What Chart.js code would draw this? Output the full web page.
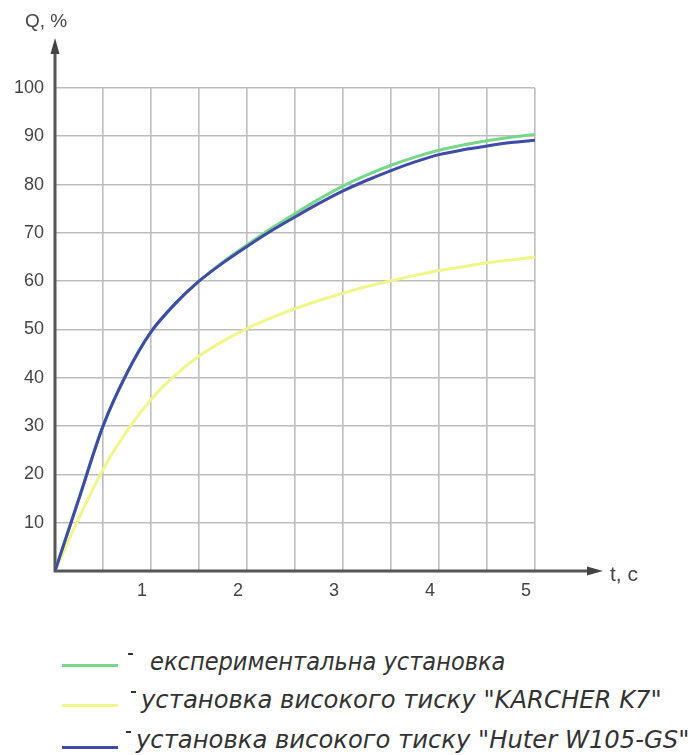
<!DOCTYPE html>
<html>
<head>
<meta charset="utf-8">
<script src="https://cdn.jsdelivr.net/npm/chart.js@4/dist/chart.umd.min.js"></script>
<style>
  body { margin: 0; background: #fff; }
  #wrap { position: relative; width: 691px; height: 755px; overflow: hidden; }
  #chart { position: absolute; left: 0; top: 0; }
  .axis-label { position: absolute; font-family: "Liberation Sans", Arial, sans-serif; color: #444; }
  .leg { position: absolute; font-family: "DejaVu Sans Condensed", "DejaVu Sans", sans-serif; font-style: italic;
         color: #333; font-size: 24px; white-space: nowrap; transform-origin: left center; }
  .leg-line { position: absolute; height: 3px; width: 56px; }
  .leg-dash { position: absolute; width: 5px; height: 2px; background: #333; }
</style>
</head>
<body>
<div id="wrap">
  <canvas id="chart" width="691" height="620"></canvas>
  <div class="axis-label" style="left:25px; top:10px; font-size:19px;">Q, %</div>
  <div class="axis-label" style="left:610px; top:562px; font-size:21px;">t, c</div>
  <div id="legend"></div>
</div>
<script>
// час, с
const times = [0, 0.25, 0.5, 0.75, 1, 1.25, 1.5, 1.75, 2, 2.25, 2.5, 2.75, 3, 3.25, 3.5, 3.75, 4, 4.25, 4.5, 4.75, 5];

// Q, % для кожної установки
const experimental = [0, 15, 30, 41, 49.5, 55.3, 60, 64, 67.5, 70.9, 74, 77, 79.7, 82, 84, 85.7, 87.1, 88.2, 89.1, 89.8, 90.4];
const karcher      = [0, 11, 21, 29, 35.5, 40.5, 44.5, 47.6, 50.2, 52.4, 54.3, 56, 57.5, 58.9, 60.1, 61.2, 62.2, 63, 63.8, 64.4, 65];
const huter        = [0, 15, 30, 41, 49.5, 55.3, 60, 63.8, 67.2, 70.4, 73.3, 76.1, 78.7, 80.9, 82.9, 84.7, 86.2, 87.2, 88, 88.7, 89.2];

const xTickLabels = ['1', '2', '3', '4', '5'];
const yTickLabels = ['10', '20', '30', '40', '50', '60', '70', '80', '90', '100'];

const seriesNames = [
    'експериментальна установка',
    'установка високого тиску "KARCHER K7"',
    'установка високого тиску "Huter W105-GS"'
];
const seriesColors = ['#76d68a', '#f0f68a', '#3f4ba6'];

function toPoints(values) {
    return values.map((v, i) => ({ x: times[i], y: v }));
}

// стрілки осей
const axisArrows = {
    id: 'axisArrows',
    beforeDatasetsDraw(chart) {
        const ctx = chart.ctx;
        const a = chart.chartArea;
        ctx.save();
        ctx.strokeStyle = '#555';
        ctx.fillStyle = '#444';
        ctx.lineWidth = 3;
        ctx.beginPath();
        ctx.moveTo(a.left, a.bottom + 1);
        ctx.lineTo(a.left, 50);
        ctx.moveTo(a.left - 1, a.bottom);
        ctx.lineTo(592, a.bottom);
        ctx.stroke();
        ctx.beginPath();
        ctx.moveTo(a.left, 38);
        ctx.lineTo(a.left - 4.5, 54);
        ctx.lineTo(a.left + 4.5, 54);
        ctx.closePath();
        ctx.fill();
        ctx.beginPath();
        ctx.moveTo(603, a.bottom);
        ctx.lineTo(587, a.bottom - 4.5);
        ctx.lineTo(587, a.bottom + 4.5);
        ctx.closePath();
        ctx.fill();
        ctx.restore();
    }
};

const datasets = [experimental, karcher, huter].map((values, i) => ({
    label: seriesNames[i],
    data: toPoints(values),
    borderColor: seriesColors[i],
    borderWidth: 3,
    pointRadius: 0,
    tension: 0.3,
    order: i === 2 ? 0 : 1
}));

new Chart(document.getElementById('chart'), {
    type: 'line',
    data: { datasets },
    options: {
        responsive: false,
        animation: false,
        layout: { padding: { top: 88, right: 156, left: 0, bottom: 0 } },
        plugins: { legend: { display: false }, tooltip: { enabled: false } },
        scales: {
            x: {
                type: 'linear',
                min: 0,
                max: 5,
                afterFit: s => { s.height = 49; },
                border: { display: false },
                grid: { color: '#bdbdbd', lineWidth: 1.6, drawTicks: false },
                ticks: {
                    stepSize: 0.5,
                    autoSkip: false,
                    maxRotation: 0,
                    padding: 9,
                    labelOffset: -9,
                    color: '#444',
                    font: { family: 'Liberation Sans', size: 18 },
                    callback: v => Number.isInteger(v) && v > 0 ? xTickLabels[v - 1] : ''
                }
            },
            y: {
                min: 0,
                max: 100,
                afterFit: s => { s.width = 55; },
                border: { display: false },
                grid: { color: '#bdbdbd', lineWidth: 1.6, drawTicks: false },
                ticks: {
                    stepSize: 10,
                    padding: 11,
                    color: '#444',
                    font: { family: 'Liberation Sans', size: 18 },
                    callback: v => v > 0 ? yTickLabels[v / 10 - 1] : ''
                }
            }
        }
    },
    plugins: [axisArrows]
});

// легенда під графіком
const legendRows = [
    { lineY: 665, textX: 150, textY: 662, width: 355, dashX: 128 },
    { lineY: 705, textX: 141, textY: 700, width: 521, dashX: 131 },
    { lineY: 747, textX: 136, textY: 740, width: 553, dashX: 126 }
];
const legend = document.getElementById('legend');
legendRows.forEach((r, i) => {
    const line = document.createElement('div');
    line.className = 'leg-line';
    line.style.left = '62px';
    line.style.top = (r.lineY - 1) + 'px';
    line.style.background = seriesColors[i];
    legend.appendChild(line);

    const dash = document.createElement('div');
    dash.className = 'leg-dash';
    dash.style.left = r.dashX + 'px';
    dash.style.top = (r.textY - 9) + 'px';
    legend.appendChild(dash);

    const t = document.createElement('div');
    t.className = 'leg';
    t.textContent = seriesNames[i];
    legend.appendChild(t);
    const h = t.offsetHeight;
    t.style.left = r.textX + 'px';
    t.style.top = (r.textY - h / 2) + 'px';
    t.style.transform = 'scaleX(' + (r.width / t.offsetWidth) + ')';
});
</script>
</body>
</html>
